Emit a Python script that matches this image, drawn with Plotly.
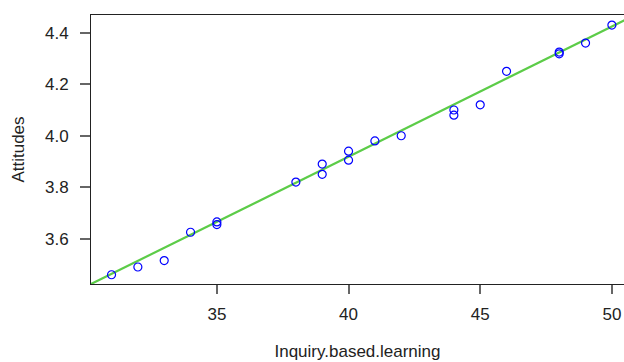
import plotly.graph_objects as go

inquiry = [31, 32, 33, 34, 35, 35, 38, 39, 39, 40, 40, 41, 42, 44, 44, 45, 46, 48, 48, 49, 50]
attitudes = [3.46, 3.49, 3.515, 3.625, 3.665, 3.655, 3.82, 3.89, 3.85, 3.94, 3.905, 3.98, 4.00,
             4.10, 4.08, 4.12, 4.25, 4.325, 4.318, 4.36, 4.43]
x_ticks = [35, 40, 45, 50]
y_ticks = [3.6, 3.8, 4.0, 4.2, 4.4]
y_tick_text = ["3.6", "3.8", "4.0", "4.2", "4.4"]

# fitted line coefficients
fit_intercept = 1.8951
fit_slope = 0.05059

x_range = [30.22, 50.46]
y_range = [3.424, 4.469]

line_x = [x_range[0] - 0.5, x_range[1] + 0.5]
line_y = [fit_intercept + fit_slope * v for v in line_x]

fig = go.Figure()
fig.add_trace(go.Scatter(
    x=line_x, y=line_y, mode="lines",
    line=dict(color="rgb(92,204,72)", width=2.2),
    hoverinfo="skip", showlegend=False))
fig.add_trace(go.Scatter(
    x=inquiry, y=attitudes, mode="markers",
    marker=dict(symbol="circle-open", size=8, color="blue", line=dict(width=1.2, color="blue")),
    showlegend=False))

font = dict(family="Liberation Sans, Arial, sans-serif", size=17, color="#222222")
fig.update_layout(
    width=624, height=362,
    margin=dict(l=91, r=0, t=15, b=78),
    plot_bgcolor="white", paper_bgcolor="white",
    font=font,
    xaxis=dict(range=x_range, tickvals=x_ticks, ticktext=[str(v) for v in x_ticks],
               showgrid=False, zeroline=False, showline=True, mirror=True,
               linecolor="#222222", linewidth=1, ticks="outside", ticklen=9,
               tickcolor="#666666", tickwidth=1.5, ticklabelstandoff=6,
               title=dict(text="Inquiry.based.learning", standoff=21, font=font)),
    yaxis=dict(range=y_range, tickvals=y_ticks, ticktext=y_tick_text,
               showgrid=False, zeroline=False, showline=True, mirror=False,
               linecolor="#222222", linewidth=1, ticks="outside", ticklen=10,
               tickcolor="#666666", tickwidth=1.5, ticklabelstandoff=8,
               title=dict(text="Attitudes", standoff=16, font=font)),
)
fig.write_html("out.html")
